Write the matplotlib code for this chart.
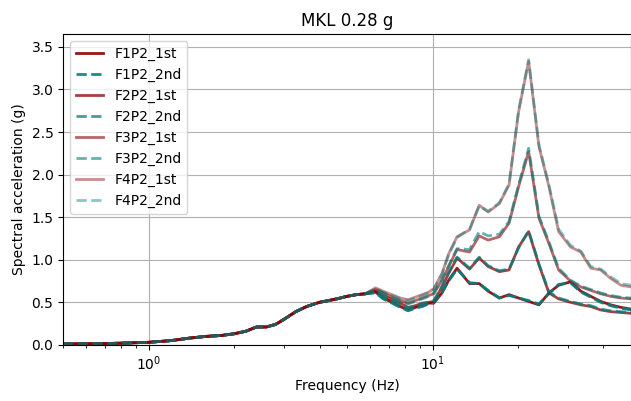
import matplotlib
matplotlib.use('Agg')
import matplotlib.pyplot as plt
import numpy as np

# frequencies (Hz)
freq = [0.5, 0.6, 0.7, 0.8, 0.9, 1.0, 1.2, 1.4, 1.6, 1.8, 2.0, 2.2, 2.4, 2.6, 2.8,
        3.0, 3.3, 3.6, 4.0, 4.3, 4.6, 5.0, 5.4, 5.8, 6.3, 6.7, 7.2, 7.7, 8.2, 8.7,
        9.2, 9.7, 10.1, 10.8, 11.4, 12.2, 13.5, 14.6, 15.7, 17.2, 18.6, 20.1, 21.8,
        23.7, 25.7, 27.8, 30.6, 33.3, 36.1, 39.1, 42.4, 46.1, 50.0]

# common low-frequency part (0.5 - 5.8 Hz)
low = [0.01, 0.012, 0.015, 0.02, 0.025, 0.03, 0.05, 0.08, 0.10, 0.11, 0.13, 0.16,
       0.21, 0.21, 0.24, 0.30, 0.39, 0.45, 0.50, 0.52, 0.54, 0.57, 0.59, 0.60]

# 6.3 Hz upward, per floor, 1st test
f1_1st = low + [0.62, 0.55, 0.50, 0.45, 0.41, 0.44, 0.46, 0.49, 0.49, 0.61, 0.76, 0.90,
                0.72, 0.72, 0.63, 0.55, 0.59, 0.55, 0.51, 0.47, 0.61, 0.70, 0.74, 0.63,
                0.57, 0.51, 0.47, 0.44, 0.42]
f2_1st = low + [0.63, 0.58, 0.53, 0.49, 0.44, 0.46, 0.49, 0.50, 0.51, 0.68, 0.84, 1.02,
                0.89, 1.02, 0.92, 0.86, 0.88, 1.15, 1.33, 0.94, 0.61, 0.54, 0.50, 0.47,
                0.45, 0.41, 0.39, 0.38, 0.37]
f3_1st = low + [0.65, 0.61, 0.56, 0.52, 0.49, 0.52, 0.55, 0.58, 0.60, 0.76, 0.92, 1.12,
                1.09, 1.28, 1.23, 1.27, 1.43, 1.86, 2.27, 1.49, 1.19, 0.88, 0.75, 0.68,
                0.64, 0.60, 0.57, 0.55, 0.54]
f4_1st = low + [0.67, 0.63, 0.59, 0.55, 0.53, 0.56, 0.59, 0.62, 0.66, 0.84, 1.07, 1.27,
                1.35, 1.64, 1.56, 1.66, 1.88, 2.74, 3.33, 2.33, 1.86, 1.33, 1.15, 1.09,
                0.90, 0.88, 0.78, 0.70, 0.68]

# 2nd test (nearly identical)
f1_2nd = low + [0.61, 0.54, 0.49, 0.44, 0.40, 0.43, 0.45, 0.48, 0.50, 0.62, 0.75, 0.89,
                0.73, 0.72, 0.64, 0.55, 0.58, 0.55, 0.52, 0.48, 0.60, 0.71, 0.73, 0.62,
                0.56, 0.50, 0.46, 0.43, 0.41]
f2_2nd = low + [0.62, 0.57, 0.52, 0.48, 0.43, 0.46, 0.48, 0.50, 0.52, 0.69, 0.85, 1.03,
                0.90, 1.03, 0.93, 0.87, 0.89, 1.14, 1.34, 0.95, 0.62, 0.55, 0.51, 0.48,
                0.46, 0.42, 0.40, 0.39, 0.38]
f3_2nd = low + [0.64, 0.60, 0.55, 0.51, 0.48, 0.51, 0.54, 0.57, 0.61, 0.77, 0.93, 1.13,
                1.12, 1.33, 1.28, 1.30, 1.45, 1.88, 2.31, 1.51, 1.21, 0.90, 0.76, 0.69,
                0.65, 0.61, 0.58, 0.56, 0.55]
f4_2nd = low + [0.66, 0.62, 0.58, 0.54, 0.52, 0.55, 0.58, 0.61, 0.65, 0.83, 1.06, 1.26,
                1.36, 1.63, 1.57, 1.67, 1.89, 2.76, 3.35, 2.35, 1.88, 1.36, 1.17, 1.10,
                0.92, 0.89, 0.80, 0.72, 0.70]

labels = ['F1P2', 'F2P2', 'F3P2', 'F4P2']
first = [f1_1st, f2_1st, f3_1st, f4_1st]
second = [f1_2nd, f2_2nd, f3_2nd, f4_2nd]
alphas = [0.9, 0.75, 0.6, 0.45]

fig = plt.figure(figsize=(6.31, 4.01), dpi=100)
ax = fig.add_axes([0.1, 0.14, 0.9, 0.775])

for lab, y1, y2, a in zip(labels, first, second, alphas):
    ax.plot(freq, y1, color='darkred', alpha=a, lw=2, label=lab + '_1st')
    ax.plot(freq, y2, color='teal', alpha=a, lw=2, ls='--', label=lab + '_2nd')

ax.set_xscale('log')
ax.set_xlim(0.5, 50)
ax.set_ylim(0, 3.65)
ax.grid(True)
ax.set_xlabel('Frequency (Hz)')
ax.set_ylabel('Spectral acceleration (g)')
ax.set_title('MKL 0.28 g')
ax.legend(loc='upper left')

fig.savefig('out.png', dpi=100)
